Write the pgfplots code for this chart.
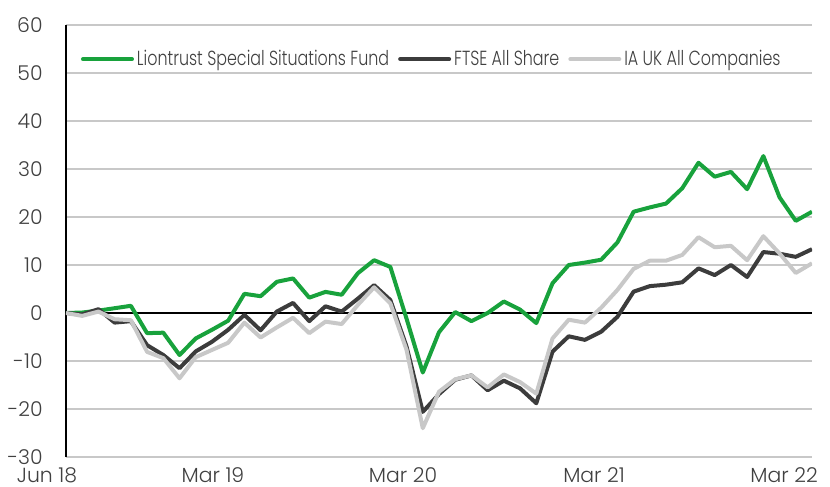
\documentclass[border=0pt]{standalone}
\usepackage{pgfplots}
\usepackage{pgfplotstable}
\pgfplotsset{compat=1.18}
\usepackage{fontspec}
\setmainfont{Poppins}[UprightFont=* Light]
\newfontfamily\legfont{Poppins}[UprightFont=* Light, FakeStretch=0.78]
\definecolor{ltgreen}{RGB}{24,162,60}
\definecolor{ftse}{RGB}{60,60,60}
\definecolor{iauk}{RGB}{200,200,200}
\definecolor{gridgray}{RGB}{200,200,200}
\definecolor{txt}{RGB}{64,64,64}

\pgfplotstableread{
i L F A
0 0.0 0.0 0.0
1 0.1 -0.3 -0.6
2 0.5 0.8 0.3
3 1.0 -2.0 -1.3
4 1.5 -1.7 -1.5
5 -4.2 -6.7 -8.1
6 -4.1 -8.75 -9.4
7 -8.75 -11.5 -13.6
8 -5.3 -8.0 -9.2
9 -3.5 -6.0 -7.7
10 -1.6 -3.5 -6.2
11 4.0 -0.4 -2.0
12 3.5 -3.6 -5.1
13 6.5 0.3 -3.0
14 7.2 2.1 -1.0
15 3.2 -1.7 -4.2
16 4.4 1.4 -1.8
17 3.8 0.3 -2.3
18 8.3 3.0 1.7
19 11.0 5.8 5.35
20 9.6 2.7 2.0
21 -1.2 -7.0 -7.7
22 -12.4 -20.6 -24.0
23 -4.0 -16.9 -16.4
24 0.2 -13.9 -13.8
25 -1.7 -13.0 -13.0
26 0.0 -16.1 -15.5
27 2.4 -14.1 -12.8
28 0.7 -15.7 -14.4
29 -2.1 -18.8 -16.8
30 6.2 -8.05 -5.3
31 10.0 -4.85 -1.4
32 10.5 -5.6 -2.0
33 11.1 -3.9 1.1
34 14.7 -0.8 4.8
35 21.1 4.45 9.2
36 22.0 5.6 10.9
37 22.8 5.9 10.9
38 26.0 6.4 12.1
39 31.3 9.3 15.8
40 28.4 7.9 13.7
41 29.4 10.0 14.0
42 25.8 7.5 11.0
43 32.7 12.7 16.0
44 24.1 12.35 12.4
45 19.2 11.7 8.35
46 21.1 13.3 10.35
}\perf

\begin{document}
\begin{tikzpicture}
\path[use as bounding box] (-33pt,-15pt) rectangle (382pt,228.5pt);
\begin{axis}[
  scale only axis,
  width=373pt, height=216pt,
  xmin=0, xmax=46, ymin=-30, ymax=60,
  axis x line*=bottom, axis y line*=left,
  x axis line style={draw=none},
  y axis line style={-, draw=black, line width=1.2pt},
  major tick length=0pt,
  ytick={-30,-20,-10,10,20,30,40,50,60},
  extra y ticks={0},
  extra y tick labels={0},
  extra y tick style={major grid style={draw=black, line width=1.2pt}},
  ymajorgrids,
  major grid style={draw=gridgray, line width=1pt},
  xtick={9.06,20.78,32.56,44.28},
  xticklabels={Mar 19,Mar 20,Mar 21,Mar 22},
  extra x ticks={0},
  extra x tick labels={Jun 18},
  extra x tick style={grid=none, xticklabel style={xshift=-9.5pt}},
  /pgf/number format/assume math mode=true,
  ticklabel style={font=\fontsize{10.2}{12}\selectfont, text=txt},
  yticklabel style={inner sep=0pt, anchor=east, xshift=-11.5pt},
  xticklabel style={inner sep=0pt, anchor=north, yshift=-5pt},
  legend style={draw=none, fill=none, inner sep=0pt, outer sep=0pt,
    at={(0.0201,0.921)}, anchor=west, legend columns=-1,
    font=\legfont\fontsize{10.2}{12}\selectfont, text=txt,
    nodes={inner sep=0pt},
    /tikz/every odd column/.append style={column sep=1.5pt},
    /tikz/every even column/.append style={column sep=4.5pt}},
  legend image code/.code={\draw[#1, line cap=round] (0pt,0pt) -- (24.5pt,0pt);},
  every axis plot/.append style={line width=2pt, line join=round, mark=none},
]
\addplot[ltgreen] table[x=i, y=L] {\perf};
\addlegendentry{Liontrust Special Situations Fund}
\addplot[ftse] table[x=i, y=F] {\perf};
\addlegendentry{FTSE All Share}
\addplot[iauk] table[x=i, y=A] {\perf};
\addlegendentry{IA UK All Companies}
\end{axis}
\end{tikzpicture}
\end{document}
